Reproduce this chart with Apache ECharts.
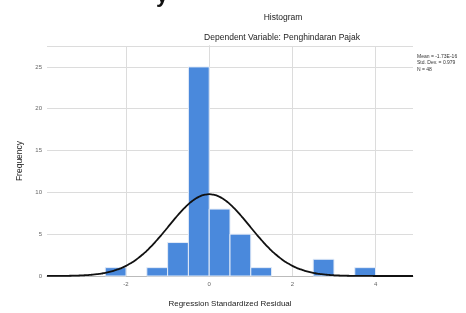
<!DOCTYPE html>
<html>
<head>
<meta charset="utf-8">
<script src="https://cdn.jsdelivr.net/npm/echarts@6/dist/echarts.min.js"></script>
<style>
  html, body { margin: 0; padding: 0; background: #fff; }
  #chart { width: 466px; height: 313px; }
</style>
</head>
<body>
<div id="chart"></div>
<script>
// histogram bins (left edge of each 0.5-wide bin) and their counts
var binStarts = [-2.5, -1.5, -1.0, -0.5, 0.0, 0.5, 1.0, 2.5, 3.5];
var binCounts = [1, 1, 4, 25, 8, 5, 1, 2, 1];
var binWidth = 0.5;

// summary stats printed at the top right
var statMean = -1.73e-16;
var statSd = 0.979;
var statN = 48;
var statLines = ['Mean = -1.73E-16', 'Std. Dev. = 0.979', 'N = 48'];

var xTicks = [-2, 0, 2, 4];
var yTicks = [0, 5, 10, 15, 20, 25];

var myChart = echarts.init(document.getElementById('chart'));

// fitted normal curve from the mean / sd / N above
var curve = [];
for (var i = 0; i <= 176; i++) {
    var x = -3.9 + i * 0.05;
    var z = (x - statMean) / statSd;
    var y = statN * binWidth * Math.exp(-0.5 * z * z) / (statSd * Math.sqrt(2 * Math.PI));
    curve.push([x, y]);
}

var bars = binStarts.map(function (s, i) { return [s, binCounts[i]]; });

var option = {
    animation: false,
    title: [
        {
            text: 'Histogram',
            left: 278, top: 8, textAlign: 'center',
            textStyle: { fontSize: 8.5, fontWeight: 'normal', color: '#222', fontFamily: 'Liberation Sans' }
        },
        {
            text: 'Dependent Variable: Penghindaran Pajak',
            left: 277, top: 28, textAlign: 'center',
            textStyle: { fontSize: 8.5, fontWeight: 'normal', color: '#222', fontFamily: 'Liberation Sans' }
        }
    ],
    graphic: [
        {
            type: 'text', left: 156, top: -15,
            style: { text: 'y', font: 'bold 22px "Liberation Sans"', fill: '#111' }
        },
        {
            type: 'group', left: 417, top: 54,
            children: statLines.map(function (t, i) {
                return {
                    type: 'text', x: 0, y: i * 6.5,
                    style: { text: t, font: '5px "Liberation Sans"', fill: '#333' }
                };
            })
        }
    ],
    grid: { left: 47, right: 53, top: 46, bottom: 32 },
    xAxis: {
        type: 'value',
        min: -3.9, max: 4.9,
        name: 'Regression Standardized Residual',
        nameLocation: 'middle', nameGap: 24,
        nameTextStyle: { fontSize: 8, color: '#222', fontFamily: 'Liberation Sans' },
        axisLine: { show: true, lineStyle: { color: '#bbb' } },
        axisTick: { show: false },
        splitLine: { show: false },
        axisLabel: {
            customValues: xTicks,
            fontSize: 6, color: '#666', margin: 5,
            fontFamily: 'Liberation Sans'
        }
    },
    yAxis: {
        type: 'value',
        min: 0, max: 27.5, interval: 5,
        name: 'Frequency',
        nameLocation: 'middle', nameGap: 21, nameRotate: 90,
        nameTextStyle: { fontSize: 8.5, color: '#222', fontFamily: 'Liberation Sans' },
        axisLine: { show: true, lineStyle: { color: '#bbb' } },
        axisTick: { show: false },
        splitLine: { show: true, lineStyle: { color: '#dcdcdc' } },
        axisLabel: {
            customValues: yTicks,
            fontSize: 6, color: '#666', margin: 5,
            fontFamily: 'Liberation Sans'
        }
    },
    series: [
        {
            type: 'custom',
            z: 2,
            encode: { x: 0, y: 1 },
            data: bars,
            renderItem: function (params, api) {
                var s = api.value(0);
                var p0 = api.coord([s, api.value(1)]);
                var p1 = api.coord([s + binWidth, 0]);
                return {
                    type: 'rect',
                    shape: { x: p0[0], y: p0[1], width: p1[0] - p0[0], height: p1[1] - p0[1] },
                    style: { fill: '#4a89dc', stroke: '#e4ecf8', lineWidth: 1 }
                };
            }
        },
        {
            type: 'line',
            z: 3,
            data: curve,
            showSymbol: false,
            smooth: true,
            lineStyle: { color: '#111', width: 1.8 },
            markLine: {
                silent: true,
                symbol: 'none',
                label: { show: false },
                z: 1,
                lineStyle: { color: '#dcdcdc', type: 'solid', width: 1 },
                data: xTicks.map(function (v) { return { xAxis: v }; })
            }
        }
    ]
};

myChart.setOption(option);
</script>
</body>
</html>
